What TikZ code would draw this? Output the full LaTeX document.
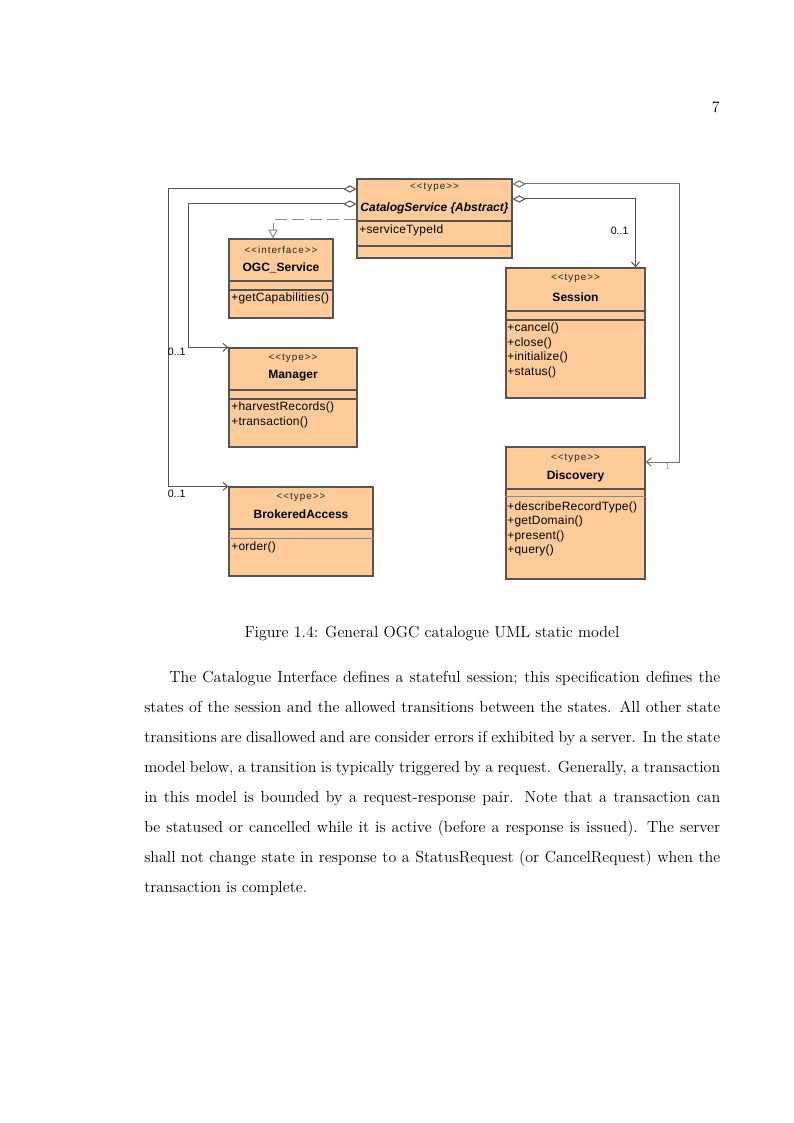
\documentclass[tikz,border=0pt]{standalone}
\usepackage{fontspec}
\newfontfamily\umlf{Liberation Sans}
\newfontfamily\umlst[LetterSpace=10]{Liberation Sans}
\newfontfamily\umlm[LetterSpace=2]{Liberation Sans}
\usetikzlibrary{arrows.meta,fit}
\definecolor{peach}{HTML}{FFCC99}
\definecolor{edge}{HTML}{555555}
\definecolor{edgelight}{HTML}{8A8A8A}
\definecolor{edgemid}{HTML}{707070}
\tikzset{
  cls/.style={draw=edge, fill=peach, line width=0.95pt, inner sep=0pt},
  sepline/.style={draw=edge, line width=0.95pt},
  sepfaint/.style={draw=edgelight, line width=0.75pt},
  stereo/.style={font=\umlst\fontsize{7.4}{8}\selectfont, inner sep=0pt, text=black!85},
  cname/.style={font=\umlf\bfseries\fontsize{9}{10}\selectfont, inner sep=0pt},
  member/.style={font=\umlm\fontsize{9}{10}\selectfont, inner sep=0pt, anchor=west},
  mult/.style={font=\umlf\fontsize{8}{9}\selectfont, inner sep=0pt, anchor=west},
  assoc/.style={draw=edge, line width=0.75pt,
    {Diamond[open,length=9.75pt,width=5.5pt]}-{Straight Barb[length=3.5pt,width=6pt]}},
  real/.style={draw=edgelight, line width=0.75pt, dash pattern=on 9pt off 4pt,
    -{Triangle[open,length=6.5pt,width=7pt,fill=white]}},
  body/.style={font=\fontsize{12}{14.5}\selectfont, inner sep=0pt, anchor=base west},
}
\begin{document}
\begin{tikzpicture}[x=0.75pt,y=-0.75pt]
\useasboundingbox[fill=white] (0,0) rectangle (793,1123);

% page number
\node[font=\fontsize{12}{14.5}\selectfont, inner sep=0pt, anchor=base east] (pnum) at (720,113) {7};

% ---------- class boxes ----------
\node[cls, fit={(357,179) (512,258)}] (cs) {};
\node[cls, fit={(229,239) (333,318)}] (og) {};
\node[cls, fit={(506,268) (645,398)}] (ss) {};
\node[cls, fit={(229,348) (357,447)}] (mg) {};
\node[cls, fit={(229,487) (373,576)}] (ba) {};
\node[cls, fit={(506,447) (645,579)}] (ds) {};

% compartments
\draw[sepline] (cs.west |- 0,221) -- (cs.east |- 0,221);
\draw[sepline] (cs.west |- 0,246) -- (cs.east |- 0,246);
\draw[sepline] (og.west |- 0,281) -- (og.east |- 0,281);
\draw[sepline] (og.west |- 0,290) -- (og.east |- 0,290);
\draw[sepline] (ss.west |- 0,311) -- (ss.east |- 0,311);
\draw[sepline] (ss.west |- 0,320) -- (ss.east |- 0,320);
\draw[sepline] (mg.west |- 0,390) -- (mg.east |- 0,390);
\draw[sepline] (mg.west |- 0,399) -- (mg.east |- 0,399);
\draw[sepline] (ba.west |- 0,529) -- (ba.east |- 0,529);
\draw[sepfaint] (ba.west |- 0,538) -- (ba.east |- 0,538);
\draw[sepline] (ds.west |- 0,489) -- (ds.east |- 0,489);
\draw[sepfaint] (ds.west |- 0,496) -- (ds.east |- 0,496);

% CatalogService
\node[stereo] (cs-st) at (434.5,187.5) {\textless\textless type\textgreater\textgreater};
\node[cname] (cs-nm) at (434.5,208) {\itshape CatalogService \{Abstract\}};
\node[member] (cs-a1) at (359,230) {+serviceTypeId};

% OGC_Service
\node[stereo] (og-st) at (281,249.5) {\textless\textless interface\textgreater\textgreater};
\node[cname] (og-nm) at (281,267.5) {OGC\_Service};
\node[member] (og-m1) at (231,298) {+getCapabilities()};

% Session
\node[stereo] (ss-st) at (575.5,278.5) {\textless\textless type\textgreater\textgreater};
\node[cname] (ss-nm) at (575.5,297) {Session};
\node[member] (ss-m1) at (507,328.5) {+cancel()};
\node[member] (ss-m2) at (507,343) {+close()};
\node[member] (ss-m3) at (507,357.5) {+initialize()};
\node[member] (ss-m4) at (507,372) {+status()};

% Manager
\node[stereo] (mg-st) at (293,358.5) {\textless\textless type\textgreater\textgreater};
\node[cname] (mg-nm) at (293,376) {Manager};
\node[member] (mg-m1) at (231,407.5) {+harvestRecords()};
\node[member] (mg-m2) at (231,422) {+transaction()};

% BrokeredAccess
\node[stereo] (ba-st) at (301,497) {\textless\textless type\textgreater\textgreater};
\node[cname] (ba-nm) at (301,514.5) {BrokeredAccess};
\node[member] (ba-m1) at (231,547) {+order()};

% Discovery
\node[stereo] (ds-st) at (575.5,458) {\textless\textless type\textgreater\textgreater};
\node[cname] (ds-nm) at (575.5,476) {Discovery};
\node[member] (ds-m1) at (507,507) {+describeRecordType()};
\node[member] (ds-m2) at (507,521.5) {+getDomain()};
\node[member] (ds-m3) at (507,536) {+present()};
\node[member] (ds-m4) at (507,550.5) {+query()};

% ---------- connectors ----------
\coordinate (lo) at (168.5,189);
\coordinate (li) at (188.5,204);
\coordinate (ro) at (679.5,184);
\coordinate (ri) at (635.5,199);
\coordinate (dh) at (273,219.5);

\draw[assoc] (cs.west |- lo) -- (lo) -- (lo |- ba.north) -- (ba.north west);
\draw[assoc] (cs.west |- li) -- (li) -- (li |- mg.north) -- (mg.north west);
\draw[real] (cs.west |- dh) -- (dh) -- (dh |- og.north);
\draw[assoc, draw=edgemid] (cs.east |- ro) -- (ro) -- (ro |- 0,462) -- (ds.east |- 0,462);
\draw[assoc] (cs.east |- ri) -- (ri) -- (ri |- ss.north);

% multiplicities
\node[mult] (m-mg) at (167.5,351.5) {0..1};
\node[mult] (m-ba) at (167.5,494) {0..1};
\node[mult] (m-ss) at (610.5,231) {0..1};
\node[mult, text=black!30, font=\umlf\fontsize{7}{8}\selectfont] (m-ds) at (664.5,466) {1};

% ---------- caption and text ----------
\node[font=\fontsize{12}{14.5}\selectfont, inner sep=0pt, anchor=base] (cap) at (432,637)
  {Figure 1.4: General OGC catalogue UML static model};

\node[body] (t1) at (144,682) {\makebox[432pt][s]{\hspace*{18.75pt}The Catalogue Interface defines a stateful session; this specification defines the}};
\node[body] (t2) at (144,712) {\makebox[432pt][s]{states of the session and the allowed transitions between the states. All other state}};
\node[body] (t3) at (144,742) {\makebox[432pt][s]{transitions are disallowed and are consider errors if exhibited by a server. In the state}};
\node[body] (t4) at (144,772) {\makebox[432pt][s]{model below, a transition is typically triggered by a request. Generally, a transaction}};
\node[body] (t5) at (144,802) {\makebox[432pt][s]{in this model is bounded by a request-response pair. Note that a transaction can}};
\node[body] (t6) at (144,832) {\makebox[432pt][s]{be statused or cancelled while it is active (before a response is issued). The server}};
\node[body] (t7) at (144,862) {\makebox[432pt][s]{shall not change state in response to a StatusRequest (or CancelRequest) when the}};
\node[body] (t8) at (144,892) {transaction is complete.};
\end{tikzpicture}
\end{document}
